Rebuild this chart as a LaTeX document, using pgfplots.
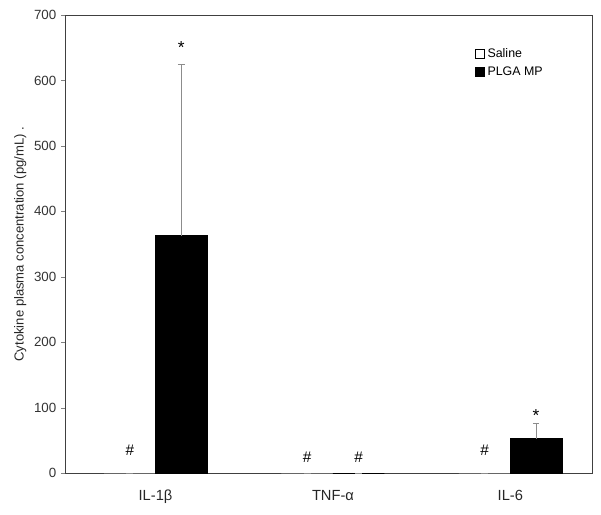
\documentclass[border=0pt]{standalone}
\usepackage{pgfplots}
\pgfplotsset{compat=1.18}
\usepackage{fontspec}
\setmainfont{Liberation Sans}

\begin{document}
\begin{tikzpicture}
\begin{axis}[name=ax,
    width=395pt, height=343.5pt, scale only axis,
    xmin=-0.51, xmax=2.46,
    ymin=0, ymax=700,
    ytick={0,100,...,700},
    xtick={0,1,2},
    xticklabels={IL-1β, TNF-α, IL-6},
    major x tick style={draw=none},
    tick align=outside,
    ytick pos=left,
    major tick length=3pt,
    /pgf/number format/assume math mode=true,
    yticklabel style={font=\fontsize{10}{12}\selectfont, text=black!80},
    xticklabel style={font=\fontsize{11}{13}\selectfont, text=black!85, yshift=-6pt},
    ylabel={Cytokine plasma concentration (pg/mL) .},
    ylabel style={font=\fontsize{9.8}{11}\selectfont, text=black!85, yshift=-1pt},
    axis line style={black!75},
    clip=false,
    bar width=0.29,
    legend style={draw=none, fill=none, at={(0.775,0.937)}, anchor=north west,
        font=\fontsize{9.3}{11}\selectfont, row sep=1.5pt, inner sep=1pt,
        nodes={inner xsep=2.5pt}},
    legend cell align=left,
]
\addplot[ybar, bar shift=0, fill=white, draw=black!60, line width=0.5pt,
    legend image code/.code={\draw[fill=white, draw=black] (0pt,-3.2pt) rectangle (6.4pt,3.2pt);},
    error bars/.cd, y dir=plus, y explicit,
    error bar style={black!45, line width=0.8pt},
    error mark options={rotate=90, mark size=2.5pt, black!45, line width=0.8pt}]
    coordinates {(-0.145,0) +- (0,0) (0.855,0) +- (0,0) (1.855,0) +- (0,0)};
\addlegendentry{Saline}
\addplot[ybar, bar shift=0, fill=black, draw=black,
    legend image code/.code={\draw[fill=black, draw=black] (0pt,-3.2pt) rectangle (6.4pt,3.2pt);},
    error bars/.cd, y dir=plus, y explicit,
    error bar style={black!45, line width=0.8pt},
    error mark options={rotate=90, mark size=2.5pt, black!45, line width=0.8pt}]
    coordinates {(0.145,363) +- (0,262) (1.145,0) +- (0,0) (2.145,53) +- (0,23)};
\addlegendentry{PLGA MP}
\node[font=\fontsize{11.5}{13}\selectfont] at (axis cs:-0.145,35) {\#};
\node[font=\fontsize{11.5}{13}\selectfont] at (axis cs:0.855,25) {\#};
\node[font=\fontsize{11.5}{13}\selectfont] at (axis cs:1.145,25) {\#};
\node[font=\fontsize{11.5}{13}\selectfont] at (axis cs:1.855,35) {\#};
\node[font=\fontsize{13}{14}\selectfont] at (axis cs:0.145,651) {*};
\node[font=\fontsize{13}{14}\selectfont] at (axis cs:2.145,88) {*};
\end{axis}
\pgfresetboundingbox
\path[use as bounding box] ([shift={(-48.75pt,-30.75pt)}]ax.south west) rectangle ([shift={(6.75pt,11.25pt)}]ax.north east);
\end{tikzpicture}
\end{document}
